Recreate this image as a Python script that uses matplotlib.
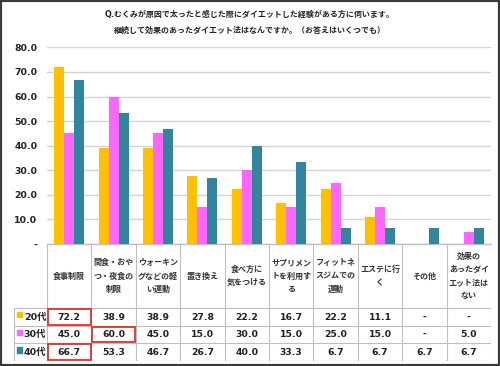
import matplotlib
matplotlib.use('Agg')
import matplotlib.pyplot as plt
from matplotlib.patches import Rectangle

plt.rcParams['font.family'] = ['DejaVu Sans', 'Noto Sans CJK JP']

# Data
categories = ['食事制限', '間食・おや\nつ・夜食の\n制限', 'ウォーキン\nグなどの軽\nい運動', '置き換え',
              '食べ方に\n気をつける', 'サプリメン\nトを利用す\nる', 'フィットネ\nスジムでの\n運動',
              'エステに行\nく', 'その他', '効果の\nあったダイ\nエット法は\nない']
series = ['20代', '30代', '40代']
v20 = [72.2, 38.9, 38.9, 27.8, 22.2, 16.7, 22.2, 11.1, None, None]
v30 = [45.0, 60.0, 45.0, 15.0, 30.0, 15.0, 25.0, 15.0, None, 5.0]
v40 = [66.7, 53.3, 46.7, 26.7, 40.0, 33.3, 6.7, 6.7, 6.7, 6.7]
colors = ['#FFC000', '#FF66FF', '#31859C']
highlight = [(0, 0), (1, 1), (2, 0)]  # (series row, category column)

title = ('Q.むくみが原因で太ったと感じた際にダイエットした経験がある方に伺います。\n'
         '継続して効果のあったダイエット法はなんですか。（お答えはいくつでも）')

W, H = 500, 366
fig = plt.figure(figsize=(W / 100, H / 100), dpi=100)

# Bar chart area (pixel layout)
left, right, top, bottom = 47, 491, 47.4, 244
ax = fig.add_axes([left / W, 1 - bottom / H, (right - left) / W, (bottom - top) / H])

n = len(categories)
width = 0.225
for i, (vals, c) in enumerate(zip([v20, v30, v40], colors)):
    xs = [k + (i - 1) * width for k in range(n) if vals[k]]
    hs = [v for v in vals if v]
    ax.bar(xs, hs, width=width, color=c, zorder=3)

ax.set_xlim(-0.5, n - 0.5)
ax.set_ylim(0, 80)
ax.set_yticks(range(0, 81, 10))
ax.set_yticklabels(['-' if t == 0 else f'{t:.1f}' for t in range(0, 81, 10)],
                   fontsize=6.7, fontweight='bold', color='#222222')
ax.tick_params(axis='y', length=0, pad=7)
ax.set_xticks([])
ax.grid(axis='y', color='#D4D4D4', linewidth=1, zorder=0)
for s in ['left', 'right', 'top']:
    ax.spines[s].set_visible(False)
ax.spines['bottom'].set_color('#BFBFBF')
ax.spines['bottom'].set_linewidth(1)

# Data table under the chart
tleft, tbottom = 14, 361
row_h = 17.6
header_h = (tbottom - bottom) / row_h - 3
tax = fig.add_axes([tleft / W, 1 - tbottom / H, (right - tleft) / W, (tbottom - bottom) / H])
lab_w = (left - tleft) / ((right - left) / n)
tax.set_xlim(-0.5 - lab_w, n - 0.5)
tax.set_ylim(0, 3 + header_h)
tax.axis('off')

line_c = '#BFBFBF'
tax.hlines([0, 1, 2, 3], -0.5 - lab_w, n - 0.5, color=line_c, lw=0.8)
tax.vlines([k - 0.5 for k in range(n + 1)], 0, 3 + header_h, color=line_c, lw=0.8)
tax.vlines([-0.5 - lab_w], 0, 3, color=line_c, lw=0.8)

for k, cat in enumerate(categories):
    tax.text(k, 3 + header_h / 2, cat, ha='center', va='center', fontsize=5.8,
             fontweight='bold', color='#333333', linespacing=1.6)

for r, (name, vals, c) in enumerate(zip(series, [v20, v30, v40], colors)):
    y = 2.5 - r
    tax.add_patch(Rectangle((-0.5 - lab_w + 0.07, y - 0.02), 0.1, 0.3, color=c, clip_on=False))
    tax.text(-0.5 - lab_w + 0.22, y, name, ha='left', va='center', fontsize=6.8,
             fontweight='bold', color='#222222')
    for k, v in enumerate(vals):
        tax.text(k, y, '-' if v is None else f'{v:.1f}', ha='center', va='center',
                 fontsize=6.7, fontweight='bold', color='#222222')

for r, k in highlight:
    tax.add_patch(Rectangle((k - 0.48, 2 - r + 0.06), 0.96, 0.88, fill=False,
                            edgecolor='#E0302F', lw=1.3, zorder=5))

fig.text(0.5, 1 - 22.5 / H, title, ha='center', va='center', fontsize=5.75,
         fontweight='bold', color='#222222', linespacing=1.9)

# Outer frame
fig.add_artist(Rectangle((0, 0), 1, 1, transform=fig.transFigure, fill=False,
                         edgecolor='#3A3A3A', lw=3))

fig.savefig('out.png', dpi=100, facecolor='white')
